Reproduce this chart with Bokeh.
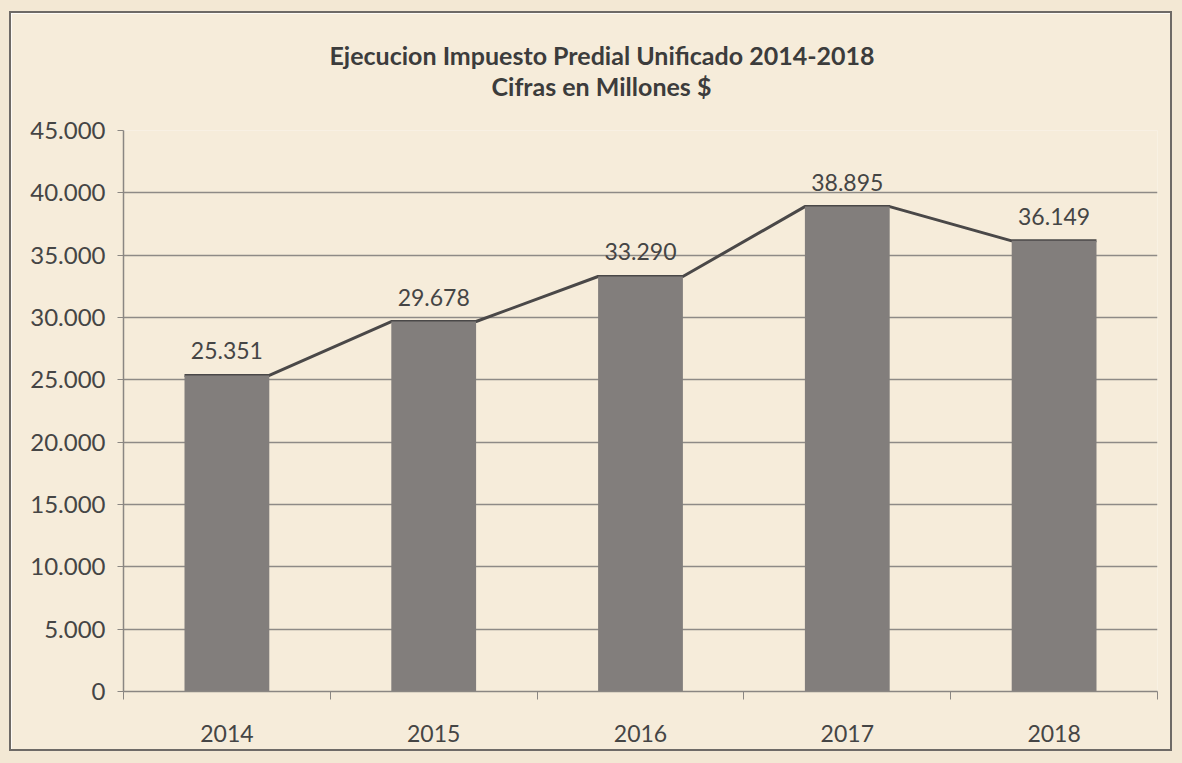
from bokeh.plotting import figure
from bokeh.models import FixedTicker, Title, ColumnDataSource, LabelSet
from bokeh.core.properties import value
from bokeh.embed import file_html
from bokeh.resources import INLINE

# ---- data ----
years = ["2014", "2015", "2016", "2017", "2018"]
values = [25351, 29678, 33290, 38895, 36149]
y_ticks = [0, 5000, 10000, 15000, 20000, 25000, 30000, 35000, 40000, 45000]
title_text = "Ejecucion Impuesto Predial Unificado 2014-2018"
subtitle_text = "Cifras en Millones $"


def fmt(v):
    return f"{v:,}".replace(",", ".")


BG = "#f6ecda"
PAPER = "#f3e8d4"
TXT = "#454545"
FONT = "Lato"
BAR_W = 0.41

xs = list(range(len(years)))

p = figure(width=1163, height=740,
           x_range=(-0.5, len(years) - 0.5), y_range=(0, 45000),
           output_backend="svg", toolbar_location=None,
           min_border_left=112, min_border_right=17,
           min_border_top=117, min_border_bottom=62)
p.styles = {"border": "2px solid #6e6a66", "margin-left": "9px", "margin-top": "11px",
            "outline": "60px solid " + PAPER}
p.background_fill_color = BG
p.border_fill_color = BG
p.outline_line_color = None

# connecting line over the bar tops (corner to corner)
line_x, line_y = [], []
for x, v in zip(xs, values):
    line_x += [x - BAR_W / 2, x + BAR_W / 2]
    line_y += [v, v]
p.line(line_x, line_y, line_color="#4a4848", line_width=3)

src = ColumnDataSource(dict(x=xs, top=values, label=[fmt(v) for v in values]))
p.vbar(x="x", top="top", width=BAR_W, source=src,
       fill_color="#827e7c", line_color=None)

labels = LabelSet(x="x", y="top", text="label", source=src,
                  y_offset=16, text_align="center", text_baseline="bottom",
                  text_font=value(FONT), text_font_size="23px", text_color=TXT)
p.add_layout(labels)

# axes
p.yaxis.ticker = FixedTicker(ticks=y_ticks, minor_ticks=[])
p.yaxis.major_label_overrides = {t: fmt(t) for t in y_ticks}
p.yaxis.axis_line_color = "#8a8682"
p.yaxis.axis_line_width = 1.5
p.yaxis.major_tick_line_color = "#8a8682"
p.yaxis.major_tick_out = 6
p.yaxis.major_tick_in = 0
p.yaxis.major_label_standoff = 12
p.yaxis.major_label_text_font = FONT
p.yaxis.major_label_text_font_size = "24px"
p.yaxis.major_label_text_color = TXT

p.xaxis.ticker = FixedTicker(ticks=xs, minor_ticks=[i - 0.5 for i in range(len(years) + 1)])
p.xaxis.major_label_overrides = {i: y for i, y in enumerate(years)}
p.xaxis.axis_line_color = "#8a8682"
p.xaxis.axis_line_width = 1.5
p.xaxis.major_tick_line_color = None
p.xaxis.minor_tick_line_color = "#8a8682"
p.xaxis.minor_tick_out = 8
p.xaxis.minor_tick_in = 0
p.xaxis.major_label_standoff = 25
p.xaxis.major_label_text_font = FONT
p.xaxis.major_label_text_font_size = "23px"
p.xaxis.major_label_text_color = TXT

p.xgrid.grid_line_color = None
p.ygrid.grid_line_color = "#8e8a86"
p.ygrid.grid_line_width = 1.5

# titles
p.add_layout(Title(text=subtitle_text, align="left", offset=368,
                   text_font=FONT, text_font_size="25px", text_font_style="bold",
                   text_color="#3c3c3c", standoff=59), "above")
p.add_layout(Title(text=title_text, align="left", offset=206,
                   text_font=FONT, text_font_size="25px", text_font_style="bold",
                   text_color="#3c3c3c", standoff=-60), "above")

open("out.html", "w").write(file_html(p, INLINE))
